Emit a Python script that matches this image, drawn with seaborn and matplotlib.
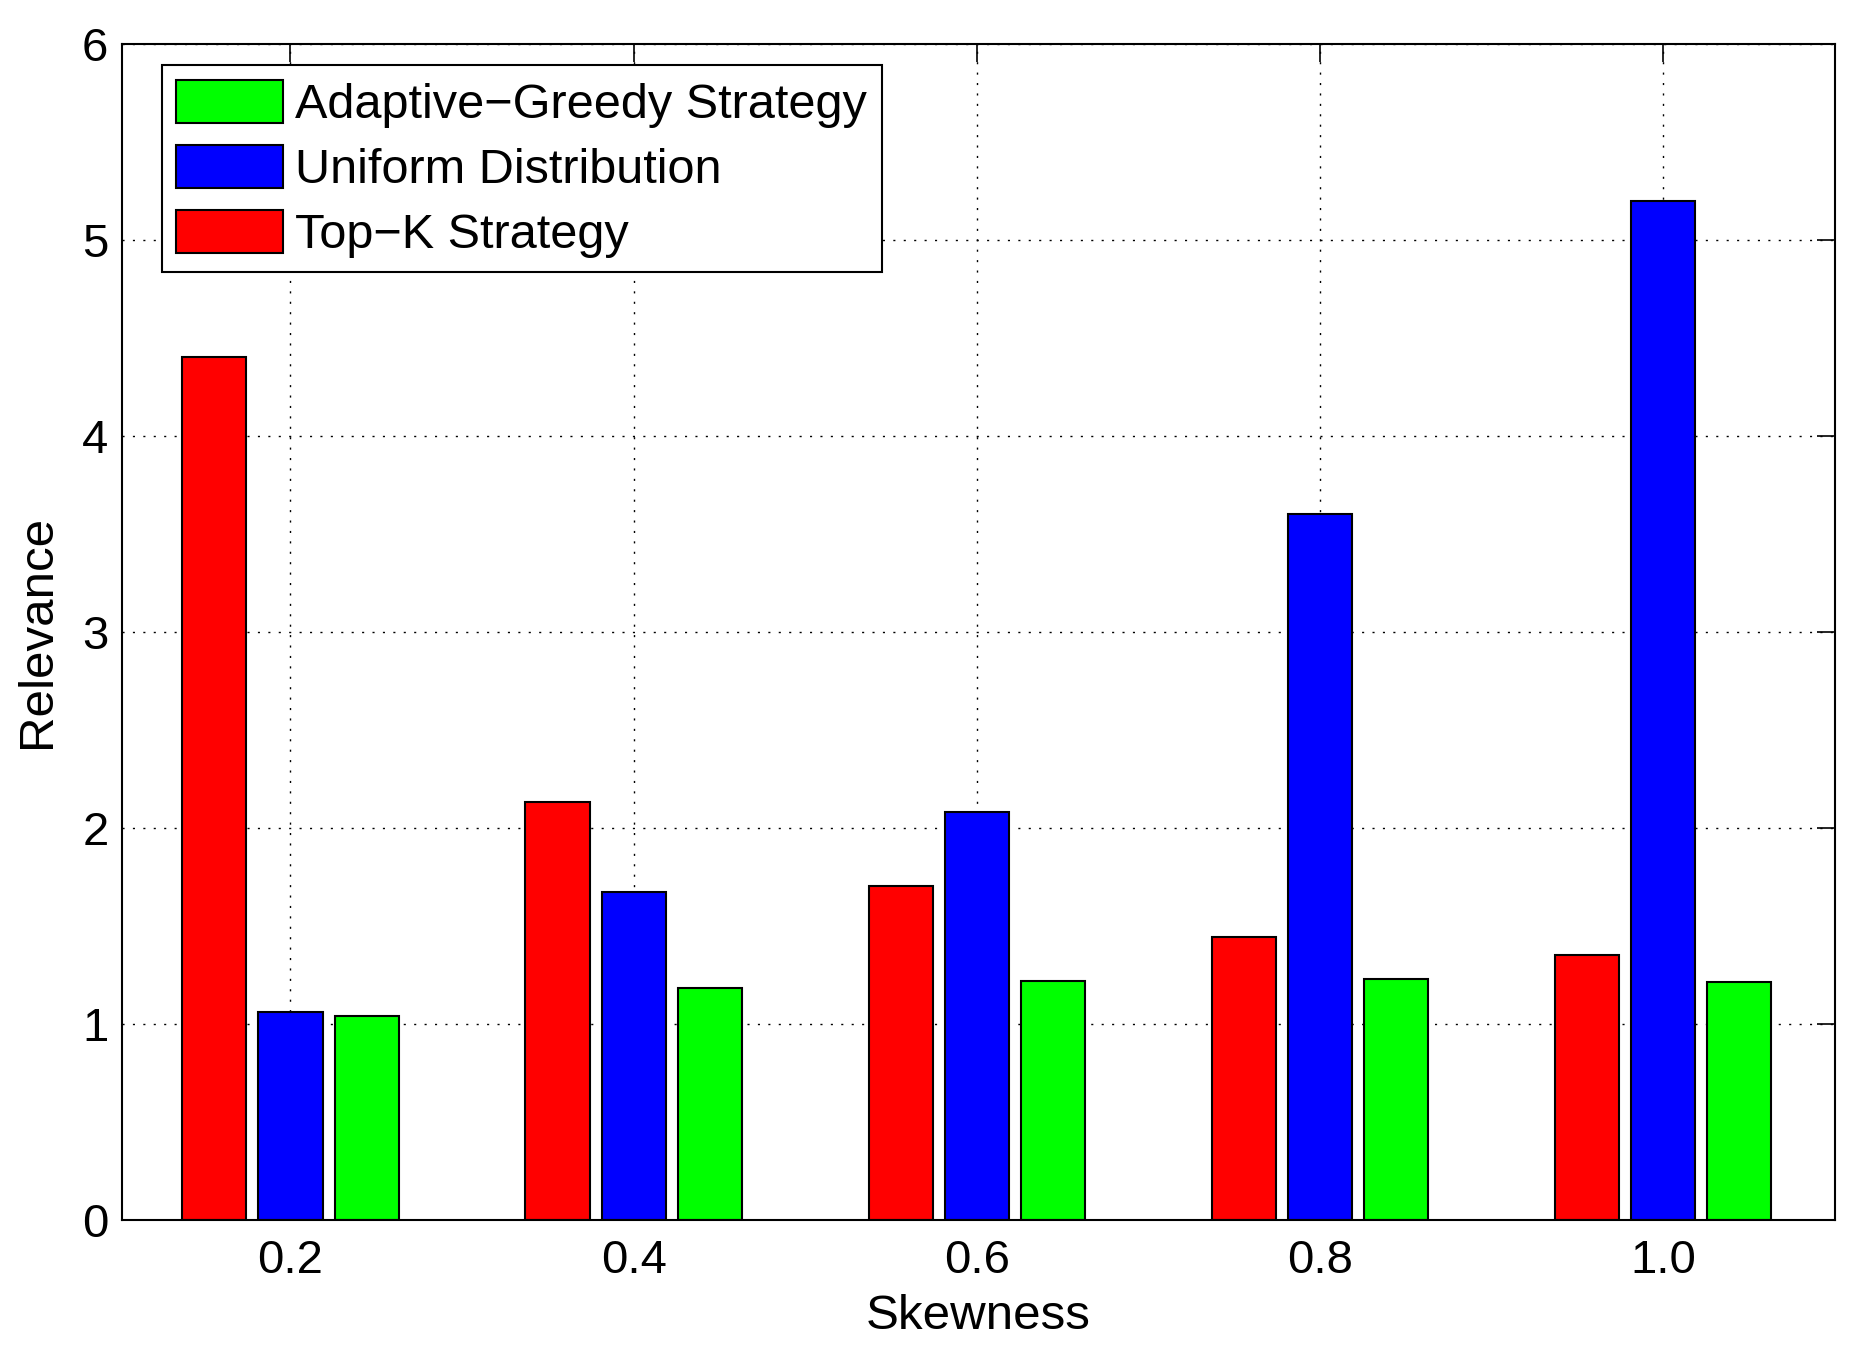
import matplotlib
matplotlib.use("Agg")
import matplotlib.pyplot as plt
import seaborn as sns
import pandas as pd

# Data
skewness = ["0.2", "0.4", "0.6", "0.8", "1.0"]
topk = [4.40, 2.13, 1.70, 1.44, 1.35]
uniform = [1.06, 1.67, 2.08, 3.60, 5.20]
adaptive = [1.04, 1.18, 1.22, 1.23, 1.21]
series_names = ["Top\u2212K Strategy", "Uniform Distribution", "Adaptive\u2212Greedy Strategy"]
series_colors = ["#ff0000", "#0000ff", "#00ff00"]

rows = []
for name, vals in zip(series_names, [topk, uniform, adaptive]):
    for s, v in zip(skewness, vals):
        rows.append({"Skewness": s, "Relevance": v, "Series": name})
df = pd.DataFrame(rows)

sns.set_theme(style="white")
plt.rcParams["font.family"] = ["Liberation Sans", "DejaVu Sans"]
plt.rcParams["text.color"] = "black"
plt.rcParams["axes.labelcolor"] = "black"

fig = plt.figure(figsize=(18.62, 13.51), dpi=100)
ax = fig.add_axes([0.0657, 0.0973, 0.9196, 0.8702])

sns.barplot(data=df, x="Skewness", y="Relevance", hue="Series",
            hue_order=series_names, order=skewness,
            palette=series_colors, width=0.666, gap=0.158,
            edgecolor="black", linewidth=1.5, saturation=1, ax=ax,
            errorbar=None)

ax.set_xlim(-0.49, 4.5)
ax.set_ylim(0, 6)
ax.set_yticks([0, 1, 2, 3, 4, 5, 6])
ax.set_axisbelow(True)
ax.grid(True, linestyle=(0, (1.5, 6)), color="black", linewidth=1.0)

for sp in ax.spines.values():
    sp.set_visible(True)
    sp.set_color("black")
    sp.set_linewidth(1.5)

ax.tick_params(axis="both", direction="in", length=13, width=1.2,
               top=True, right=True, labelsize=34, colors="black")
ax.tick_params(axis="x", pad=14)
ax.tick_params(axis="y", pad=10)

ax.set_xlabel("Skewness", fontsize=35.5, labelpad=8, color="black")
ax.set_ylabel("Relevance", fontsize=35.5, labelpad=16, color="black")

handles, labels = ax.get_legend_handles_labels()
leg = ax.legend(handles[::-1], labels[::-1], loc="upper left",
                bbox_to_anchor=(0.023, 0.982), borderaxespad=0,
                fontsize=35, frameon=True, fancybox=False,
                edgecolor="black", framealpha=1, handlelength=2.2,
                handleheight=1.0, labelspacing=0.34, handletextpad=0.25,
                borderpad=0.3)
leg.get_frame().set_linewidth(1.5)
for t in leg.get_texts():
    t.set_color("black")

fig.savefig("out.png", dpi=100)
